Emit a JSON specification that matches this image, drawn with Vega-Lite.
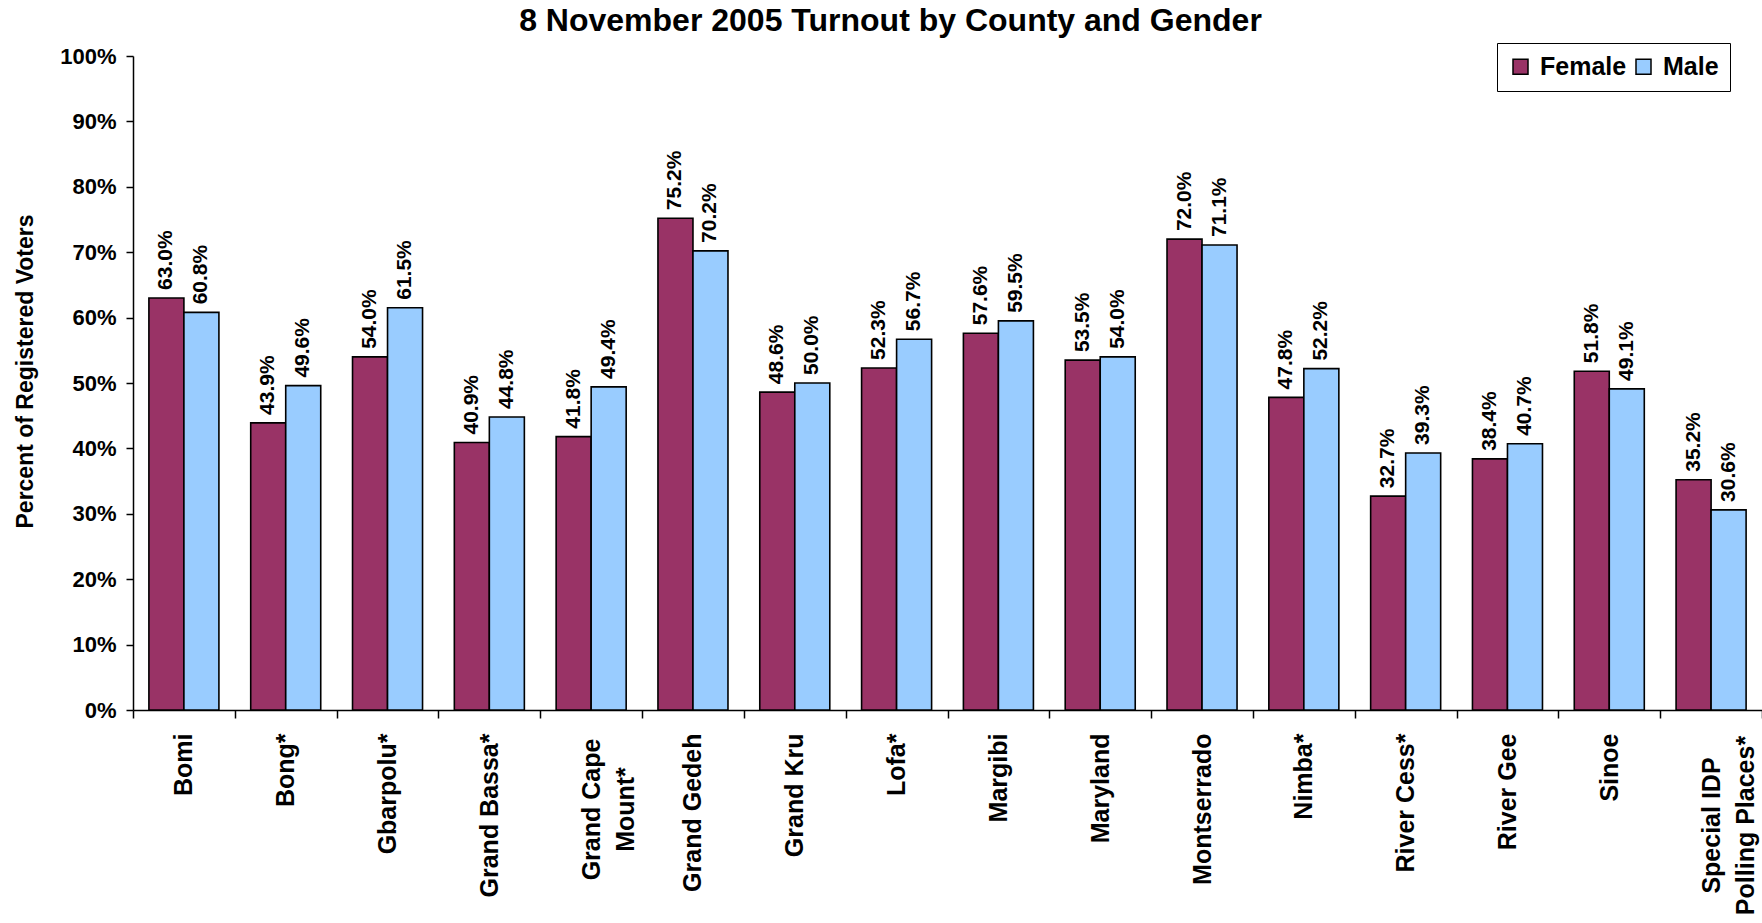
{
  "$schema": "https://vega.github.io/schema/vega-lite/v6.json",
  "width": 1629,
  "height": 654,
  "autosize": "none",
  "padding": {"left": 133, "top": 56, "right": 0, "bottom": 213},
  "background": "white",
  "title": {
    "text": "8 November 2005 Turnout by County and Gender",
    "font": "Liberation Sans",
    "fontSize": 32,
    "fontWeight": "bold",
    "color": "black",
    "anchor": "middle",
    "dx": -57,
    "baseline": "alphabetic",
    "offset": -20
  },
  "data": {
    "values": [
      {"county": "Bomi", "gender": "Female", "turnout": 0.630},
      {"county": "Bomi", "gender": "Male", "turnout": 0.608},
      {"county": "Bong*", "gender": "Female", "turnout": 0.439},
      {"county": "Bong*", "gender": "Male", "turnout": 0.496},
      {"county": "Gbarpolu*", "gender": "Female", "turnout": 0.540},
      {"county": "Gbarpolu*", "gender": "Male", "turnout": 0.615},
      {"county": "Grand Bassa*", "gender": "Female", "turnout": 0.409},
      {"county": "Grand Bassa*", "gender": "Male", "turnout": 0.448},
      {"county": "Grand Cape Mount*", "gender": "Female", "turnout": 0.418},
      {"county": "Grand Cape Mount*", "gender": "Male", "turnout": 0.494},
      {"county": "Grand Gedeh", "gender": "Female", "turnout": 0.752},
      {"county": "Grand Gedeh", "gender": "Male", "turnout": 0.702},
      {"county": "Grand Kru", "gender": "Female", "turnout": 0.486},
      {"county": "Grand Kru", "gender": "Male", "turnout": 0.500},
      {"county": "Lofa*", "gender": "Female", "turnout": 0.523},
      {"county": "Lofa*", "gender": "Male", "turnout": 0.567},
      {"county": "Margibi", "gender": "Female", "turnout": 0.576},
      {"county": "Margibi", "gender": "Male", "turnout": 0.595},
      {"county": "Maryland", "gender": "Female", "turnout": 0.535},
      {"county": "Maryland", "gender": "Male", "turnout": 0.540},
      {"county": "Montserrado", "gender": "Female", "turnout": 0.720},
      {"county": "Montserrado", "gender": "Male", "turnout": 0.711},
      {"county": "Nimba*", "gender": "Female", "turnout": 0.478},
      {"county": "Nimba*", "gender": "Male", "turnout": 0.522},
      {"county": "River Cess*", "gender": "Female", "turnout": 0.327},
      {"county": "River Cess*", "gender": "Male", "turnout": 0.393},
      {"county": "River Gee", "gender": "Female", "turnout": 0.384},
      {"county": "River Gee", "gender": "Male", "turnout": 0.407},
      {"county": "Sinoe", "gender": "Female", "turnout": 0.518},
      {"county": "Sinoe", "gender": "Male", "turnout": 0.491},
      {"county": "Special IDP Polling Places*", "gender": "Female", "turnout": 0.352},
      {"county": "Special IDP Polling Places*", "gender": "Male", "turnout": 0.306}
    ]
  },
  "encoding": {
    "x": {
      "field": "county",
      "type": "nominal",
      "sort": null,
      "scale": {"paddingInner": 0, "paddingOuter": 0},
      "axis": {
        "title": null,
        "labelAngle": -90,
        "labelExpr": "datum.label == 'Grand Cape Mount*' ? ['Grand Cape', 'Mount*'] : datum.label == 'Special IDP Polling Places*' ? ['Special IDP', 'Polling Places*'] : datum.label",
        "labelFont": "Liberation Sans",
        "labelFontSize": 25,
        "labelFontWeight": "bold",
        "labelColor": "black",
        "labelLineHeight": 34,
        "labelAlign": {
          "condition": {"test": "datum.value == 'Grand Cape Mount*' || datum.value == 'Special IDP Polling Places*'", "value": "center"},
          "value": "right"
        },
        "labelPadding": {
          "condition": [
            {"test": "datum.value == 'Grand Cape Mount*'", "value": 91},
            {"test": "datum.value == 'Special IDP Polling Places*'", "value": 107}
          ],
          "value": 15
        },
        "labelLimit": 400,
        "labelOverlap": false,
        "tickSize": 8,
        "tickBand": "extent",
        "tickColor": "black",
        "tickWidth": 1.5,
        "domainColor": "black",
        "domainWidth": 1.5
      }
    },
    "xOffset": {
      "field": "gender",
      "type": "nominal",
      "sort": ["Female", "Male"],
      "scale": {"paddingInner": 0, "paddingOuter": 0.454}
    },
    "y": {
      "field": "turnout",
      "type": "quantitative",
      "scale": {"domain": [0, 1]},
      "axis": {
        "title": "Percent of Registered Voters",
        "titleFont": "Liberation Sans",
        "titleFontSize": 23,
        "titleFontWeight": "bold",
        "titleColor": "black",
        "titlePadding": 22,
        "titleY": 315,
        "values": [0, 0.1, 0.2, 0.3, 0.4, 0.5, 0.6, 0.7, 0.8, 0.9, 1],
        "format": ".0%",
        "labelFont": "Liberation Sans",
        "labelFontSize": 22,
        "labelFontWeight": "bold",
        "labelColor": "black",
        "labelPadding": 10,
        "tickSize": 7,
        "tickColor": "black",
        "tickWidth": 1.5,
        "domainColor": "black",
        "domainWidth": 1.5,
        "grid": false
      }
    }
  },
  "layer": [
    {
      "mark": {"type": "bar", "stroke": "black", "strokeWidth": 1.6, "opacity": 1},
      "encoding": {
        "color": {
          "field": "gender",
          "type": "nominal",
          "scale": {"domain": ["Female", "Male"], "range": ["#993366", "#99CCFF"]},
          "legend": {
            "orient": "none",
            "legendX": 1364,
            "legendY": -13,
            "direction": "horizontal",
            "title": null,
            "strokeColor": "black",
            "padding": 11,
            "symbolType": "square",
            "symbolSize": 225,
            "symbolStrokeColor": "black",
            "symbolStrokeWidth": 1.5,
            "symbolOpacity": 1,
            "labelFont": "Liberation Sans",
            "labelFontSize": 25,
            "labelFontWeight": "bold",
            "labelColor": "black",
            "labelOffset": 7,
            "columnPadding": 4
          }
        }
      }
    },
    {
      "mark": {
        "type": "text",
        "angle": 270,
        "align": "left",
        "baseline": "middle",
        "dx": 8,
        "font": "Liberation Sans",
        "fontWeight": "bold",
        "fontSize": 21,
        "color": "black"
      },
      "encoding": {
        "text": {"field": "turnout", "type": "quantitative", "format": ".1%"}
      }
    }
  ],
  "config": {"view": {"stroke": null}}
}
